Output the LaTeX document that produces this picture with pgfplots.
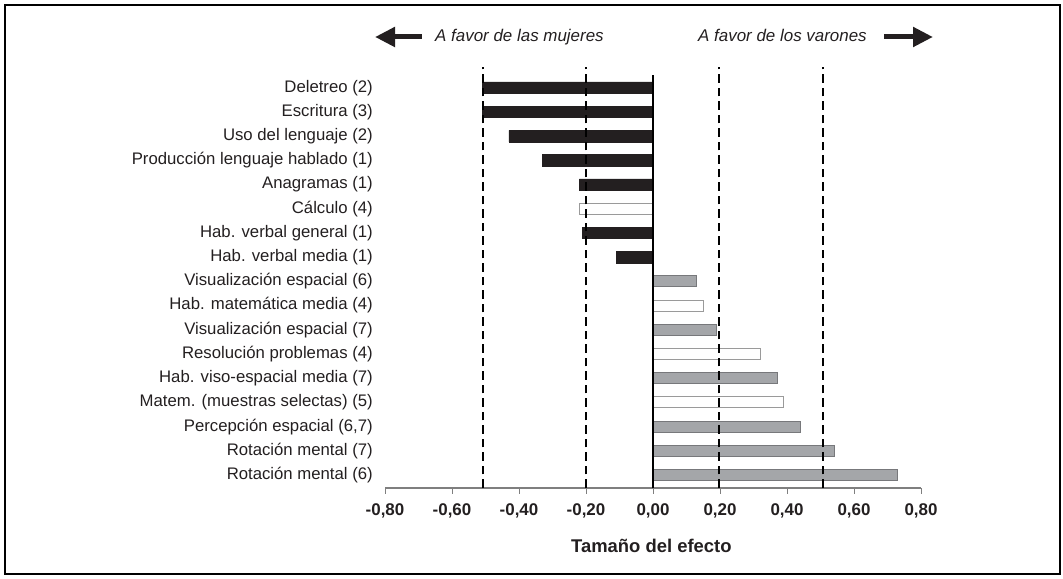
\documentclass[border=0pt]{standalone}
\usepackage{fontspec}
\setmainfont{Liberation Sans}
\usepackage{pgfplots}
\pgfplotsset{compat=1.18}
\usetikzlibrary{arrows.meta}
\definecolor{barblack}{HTML}{231F20}
\definecolor{bargray}{HTML}{A4A6A9}
\definecolor{bargrayedge}{HTML}{77787B}
\definecolor{whiteedge}{HTML}{9A9A9A}
\definecolor{axisgray}{HTML}{7F7F7F}
\begin{document}
\begin{tikzpicture}[x=1bp,y=1bp]
\useasboundingbox (0,0) rectangle (1063,579);
\draw[line width=1.5bp] (5,5) rectangle (1060,574);
\begin{axis}[
  at={(385bp,91bp)}, anchor=south west,
  scale only axis, width=536bp, height=413bp,
  xmin=-0.8, xmax=0.8, ymin=0.463, ymax=17.525,
  clip=false,
  axis x line*=bottom, axis y line*=left,
  x axis line style={axisgray, line width=1.2bp, -},
  y axis line style={draw=none},
  tick align=outside, major tick length=6bp,
  xtick={-0.8,-0.6,-0.4,-0.2,0,0.2,0.4,0.6,0.8},
  x tick style={axisgray, line width=1bp},
  y tick style={draw=none},
  xticklabel style={font=\bfseries\fontsize{17}{20}\selectfont, text=barblack, yshift=-6bp},
  /pgf/number format/.cd, fixed, fixed zerofill, precision=2, use comma, assume math mode=true,
  /pgfplots/.cd,
  ytick={1,...,17},
  yticklabels={{Rotación mental (6)}, {Rotación mental (7)}, {Percepción espacial (6,7)}, {Matem. (muestras selectas) (5)}, {Hab. viso-espacial media (7)}, {Resolución problemas (4)}, {Visualización espacial (7)}, {Hab. matemática media (4)}, {Visualización espacial (6)}, {Hab. verbal media (1)}, {Hab. verbal general (1)}, {Cálculo (4)}, {Anagramas (1)}, {Producción lenguaje hablado (1)}, {Uso del lenguaje (2)}, {Escritura (3)}, {Deletreo (2)}},
  yticklabel style={font=\fontsize{16.8}{20}\selectfont, text=barblack, anchor=east, inner sep=0pt, xshift=-6bp},
  xlabel={Tamaño del efecto},
  xlabel style={at={(axis description cs:0.497,0)}, anchor=base, yshift=-64.7bp, inner sep=0pt, font=\bfseries\fontsize{18.5}{22}\selectfont, text=barblack},
]
\addplot[xbar, bar width=11.5bp, bar shift=0pt, fill=barblack, draw=barblack]
  coordinates {(-0.51,17) (-0.51,16) (-0.43,15) (-0.33,14) (-0.22,13) (-0.21,11) (-0.11,10)};
\addplot[xbar, bar width=11bp, bar shift=0pt, fill=white, draw=whiteedge, line width=1bp]
  coordinates {(-0.22,12) (0.15,8) (0.32,6) (0.39,4)};
\addplot[xbar, bar width=11bp, bar shift=0pt, fill=bargray, draw=bargrayedge, line width=0.8bp]
  coordinates {(0.13,9) (0.19,7) (0.37,5) (0.44,3) (0.54,2) (0.73,1)};
% zero line
\addplot[black, line width=1.5bp, no marks] coordinates {(0,0.463) (0,17.525)};
% dashed reference lines
\addplot[black, line width=2bp, dash pattern=on 8.5bp off 5bp, no marks] coordinates {(-0.507,0.463) (-0.507,17.86)};
\addplot[black, line width=2bp, dash pattern=on 8.5bp off 5bp, no marks] coordinates {(-0.201,0.463) (-0.201,17.86)};
\addplot[black, line width=2bp, dash pattern=on 8.5bp off 5bp, no marks] coordinates {(0.198,0.463) (0.198,17.86)};
\addplot[black, line width=2bp, dash pattern=on 8.5bp off 5bp, no marks] coordinates {(0.508,0.463) (0.508,17.86)};
\end{axis}
\draw[barblack, line width=5bp, -{Triangle[length=20bp,width=19bp]}] (421.7,542) -- (375,542);
\draw[barblack, line width=5bp, -{Triangle[length=20bp,width=19bp]}] (884,542) -- (933,542);
\node[anchor=base west, inner sep=0pt, text=barblack, font=\itshape\fontsize{17}{20}\selectfont] at (435,537.3) {A favor de las mujeres};
\node[anchor=base west, inner sep=0pt, text=barblack, font=\itshape\fontsize{17}{20}\selectfont] at (698,537.3) {A favor de los varones};
\end{tikzpicture}
\end{document}
